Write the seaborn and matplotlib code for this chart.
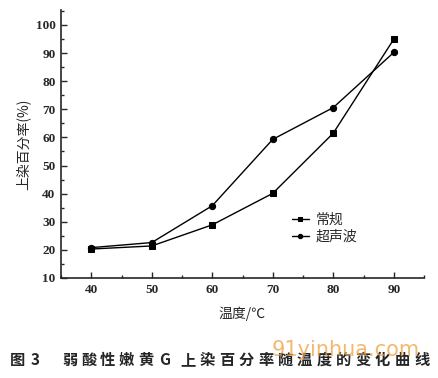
import pandas as pd
import seaborn as sns
import matplotlib.pyplot as plt
from matplotlib.ticker import MultipleLocator

# data
temp = [40, 50, 60, 70, 80, 90]
conventional = [20.3, 21.4, 28.9, 40.1, 61.5, 94.9]
ultrasonic = [20.8, 22.6, 35.7, 59.3, 70.6, 90.2]
series_names = ['常规', '超声波']

df = pd.DataFrame({
    'temp': temp * 2,
    'rate': conventional + ultrasonic,
    'method': [series_names[0]] * len(temp) + [series_names[1]] * len(temp),
})

sns.set_style('ticks')
plt.rcParams['font.family'] = ['Liberation Serif', 'Noto Sans CJK SC']
plt.rcParams['xtick.direction'] = 'in'
plt.rcParams['ytick.direction'] = 'in'

W, H = 438, 378
fig = plt.figure(figsize=(W / 100, H / 100), dpi=100)
ax = fig.add_axes([61 / W, 1 - 278 / H, 363 / W, 268 / H])

sns.lineplot(data=df, x='temp', y='rate', hue='method', style='method',
             markers={'常规': 's', '超声波': 'o'}, dashes=False,
             palette=['black', 'black'], markersize=4.5, linewidth=1.0,
             markeredgecolor='black', ax=ax)

ax.set_xlim(35, 95)
ax.set_ylim(10, 105.3)
ax.set_xticks([40, 50, 60, 70, 80, 90])
ax.set_yticks(range(10, 101, 10))
ax.xaxis.set_minor_locator(MultipleLocator(5))
ax.yaxis.set_minor_locator(MultipleLocator(5))
ax.tick_params(which='major', length=4, width=1, labelsize=9.5, pad=4)
ax.tick_params(which='minor', length=2, width=1)
for lab in ax.get_xticklabels() + ax.get_yticklabels():
    lab.set_fontweight('bold')
    lab.set_fontfamily(['Liberation Serif', 'DejaVu Serif'])
sns.despine(ax=ax)
for s in ['left', 'bottom']:
    ax.spines[s].set_linewidth(1.2)

ax.set_xlabel('温度/℃', fontsize=10, family=['Noto Sans CJK SC'], labelpad=8)
ax.set_ylabel('上染百分率(%)', fontsize=10, family=['Noto Sans CJK SC'], labelpad=4)

leg = ax.legend(loc='center left', bbox_to_anchor=(0.617, 0.185), frameon=False,
                handlelength=1.2, handletextpad=0.5, labelspacing=0.2,
                borderpad=0, markerscale=0.7,
                prop={'family': 'Noto Sans CJK SC', 'size': 10})

# caption, set character by character for the wide spacing of the original
cap_kw = dict(fontsize=11, fontweight='bold', family=['Noto Sans CJK SC'],
              va='center', ha='left')
cy = 1 - 360 / H
fig.text(10 / W, cy, '图', **cap_kw)
fig.text(31 / W, cy, '3', **cap_kw)
for i, ch in enumerate('弱酸性嫩黄'):
    fig.text((62 + 19 * i) / W, cy, ch, **cap_kw)
fig.text(159 / W, cy, 'G', **cap_kw)
for i, ch in enumerate('上染百分率随温度的变化曲线'):
    fig.text((180 + 19.5 * i) / W, cy, ch, **cap_kw)

fig.text(272 / W, 1 - 350 / H, '91yinhua.com', fontsize=15, color='#f0a040',
         alpha=0.75, ha='left', va='center', family=['DejaVu Sans'])

fig.savefig('out.png', dpi=100)
